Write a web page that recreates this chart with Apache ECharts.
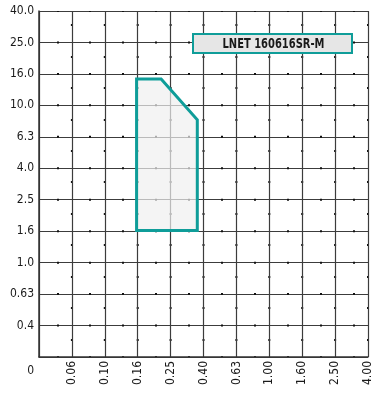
<!DOCTYPE html>
<html>
<head>
<meta charset="utf-8">
<script src="https://cdn.jsdelivr.net/npm/echarts@6/dist/echarts.min.js"></script>
<style>html,body{margin:0;padding:0;background:#fff}#c{width:376px;height:409px}</style>
</head>
<body>
<div id="c"></div>
<script>
// Tick labels (R5 series, log-spaced; first position is the "0" origin)
var xLabels = ['0', '0.06', '0.10', '0.16', '0.25', '0.40', '0.63', '1.00', '1.60', '2.50', '4.00'];
var yLabels = ['0', '0.4', '0.63', '1.0', '1.6', '2.5', '4.0', '6.3', '10.0', '16.0', '25.0', '40.0'];
// Operating area polygon (feed mm/rev, depth mm)
var areaX = [0.156, 0.156, 0.22, 0.365, 0.365];
var areaY = [1.6, 14.7, 14.7, 8.1, 1.6];
var seriesName = 'LNET 160616SR-M';

var B = Math.pow(10, 0.2);
var FONT = "'DejaVu Sans Condensed', 'DejaVu Sans', sans-serif";
var TEAL = '#0f9d99';
var GRID = {left: 39, right: 8, top: 11, bottom: 52};
var W = 376 - GRID.left - GRID.right, H = 409 - GRID.top - GRID.bottom;
var xMinExp = -7, xMaxExp = 3, yMinExp = -3, yMaxExp = 8;
var dx = W / (xMaxExp - xMinExp), dy = H / (yMaxExp - yMinExp);

function idxOf(v, minExp) { return Math.round(Math.log(v) / Math.log(B)) - minExp; }

// fit the legend text width to the reference box
var titleFont = 'bold 14px ' + FONT;
var mctx = document.createElement('canvas').getContext('2d');
mctx.font = titleFont;
var tw = mctx.measureText(seriesName).width || 102;
var sx = 102 / tw;

var chart = echarts.init(document.getElementById('c'), null, {renderer: 'canvas'});
chart.setOption({
  animation: false,
  grid: GRID,
  xAxis: {
    type: 'log', logBase: B,
    min: Math.pow(B, xMinExp), max: Math.pow(B, xMaxExp), interval: 1,
    axisLine: {show: true, onZero: false, lineStyle: {color: '#333', width: 1.5}},
    axisTick: {show: false},
    minorTick: {show: false, splitNumber: 2},
    axisLabel: {
      rotate: 90, margin: 4, fontSize: 12, color: '#1a1a1a', fontFamily: FONT,
      formatter: function (v) { var i = idxOf(v, xMinExp); return i === 0 ? '' : (xLabels[i] || ''); }
    },
    splitLine: {show: true, lineStyle: {color: '#3c3c3c', width: 1.2}},
    minorSplitLine: {show: true, lineStyle: {color: '#111', width: 2, type: [2, dy - 2], dashOffset: 1}}
  },
  yAxis: {
    type: 'log', logBase: B,
    min: Math.pow(B, yMinExp), max: Math.pow(B, yMaxExp), interval: 1,
    axisLine: {show: true, onZero: false, lineStyle: {color: '#333', width: 1.5}},
    axisTick: {show: false},
    minorTick: {show: false, splitNumber: 2},
    axisLabel: {
      margin: 5, fontSize: 12, color: '#1a1a1a', fontFamily: FONT,
      formatter: function (v) { var i = idxOf(v, yMinExp); return i === 0 ? '{z|' + yLabels[0] + '}' : (yLabels[i] || ''); },
      rich: {z: {fontSize: 12, color: '#1a1a1a', fontFamily: FONT, padding: [28, 0, 0, 0]}}
    },
    splitLine: {show: true, lineStyle: {color: '#3c3c3c', width: 1.2}},
    minorSplitLine: {show: true, lineStyle: {color: '#111', width: 2, type: [2, dx - 2], dashOffset: 1}}
  },
  graphic: [{
    type: 'group', left: 192, top: 33, z: 100, zlevel: 0,
    children: [
      {type: 'rect', z: 100, shape: {x: 0, y: 0, width: 159, height: 19}, style: {fill: '#e6e6e6', stroke: TEAL, lineWidth: 2}},
      {type: 'text', z: 101, x: 80.5, y: 10, scaleX: sx, style: {text: seriesName, fill: '#1a1a1a', font: titleFont, align: 'center', verticalAlign: 'middle'}}
    ]
  }],
  series: [{
    type: 'custom', name: seriesName,
    data: [0],
    renderItem: function (params, api) {
      var pts = areaX.map(function (x, i) { return api.coord([x, areaY[i]]); });
      return {type: 'polygon', shape: {points: pts}, style: {fill: 'rgba(240,240,240,0.7)', stroke: TEAL, lineWidth: 3}, z2: 10};
    },
    z: 3
  }]
});
</script>
</body>
</html>
